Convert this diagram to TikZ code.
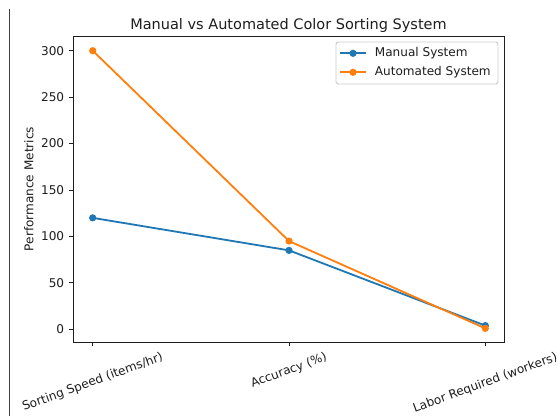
\documentclass[tikz,border=0pt]{standalone}
\usepackage{fontspec}
\setmainfont{DejaVu Sans}
\usetikzlibrary{positioning,calc}
\definecolor{mancol}{RGB}{31,119,180}
\definecolor{autcol}{RGB}{255,127,14}
\definecolor{legframe}{RGB}{204,204,204}
\definecolor{ink}{RGB}{30,30,30}
\tikzset{lab/.style={font=\fontsize{12.07}{14}\selectfont,inner sep=0pt,text=ink},ttl/.style={font=\fontsize{14.5}{17}\selectfont,inner sep=0pt,text=ink},spine/.style={line width=0.97pt,draw=ink},tickmark/.style={line width=0.97pt,draw=ink},series/.style={line width=1.81pt,line join=round,line cap=rect},dot/.style={circle,inner sep=0pt,minimum size=7.24pt},xlab/.style={lab,rotate=20}}

\begin{document}
\begin{tikzpicture}[x=1pt,y=1pt]
\useasboundingbox[fill=white] (0,0) rectangle (558,416);
% page rule on the left
\draw[line width=1pt,draw=black!75] (9,0) -- (9,407);
\begin{scope}[shift={(92.7,86.7)},x=196.3pt,y=0.9287pt]
% data
\coordinate (m0) at (0,120);\coordinate (m1) at (1,85);\coordinate (m2) at (2,4);
\coordinate (a0) at (0,300);\coordinate (a1) at (1,95);\coordinate (a2) at (2,1);
\draw[series,mancol] (m0)--(m1)--(m2);
\foreach \i in {0,1,2} \node[dot,fill=mancol] (dm\i) at (m\i) {};
\draw[series,autcol] (a0)--(a1)--(a2);
\foreach \i in {0,1,2} \node[dot,fill=autcol] (da\i) at (a\i) {};
% axes and ticks
\draw[spine] (-0.1,-13.95) rectangle (2.1,314.95);
\foreach \v in {0,50,...,300} \draw[tickmark] (-0.1,\v) -- ++(-4.22pt,0) node[lab,anchor=east,xshift=-4.22pt] (yt\v) {\v};
\foreach \i in {0,1,2} \draw[tickmark] (\i,-13.95) -- ++(0,-4.22pt);
\end{scope}
\node[xlab] (xt0) at (92.7,33.6) {Sorting Speed (items/hr)};
\node[xlab] (xt1) at (289,45.3) {Accuracy (\%)};
\node[xlab] (xt2) at (485.3,32.7) {Labor Required (workers)};
\node[lab,rotate=90] (ylab) at (29,227) {Performance Metrics};
\node[ttl,anchor=base] (title) at (288.5,386) {Manual vs Automated Color Sorting System};
% legend
\draw[draw=legframe,fill=white,fill opacity=0.8,line width=0.97pt,rounded corners=2.4pt] (336,332) rectangle (498,374);
\coordinate (lm0) at (341,362.7);\coordinate (lm1) at (365,362.7);
\coordinate (la0) at (341,343.7);\coordinate (la1) at (365,343.7);
\draw[series,mancol] (lm0)--(lm1);
\node[dot,fill=mancol] (lmd) at ($(lm0)!0.5!(lm1)$) {};
\node[lab,anchor=west] (lmt) at (374.7,362.7) {Manual System};
\draw[series,autcol] (la0)--(la1);
\node[dot,fill=autcol] (lad) at ($(la0)!0.5!(la1)$) {};
\node[lab,anchor=west] (lat) at (374.7,343.7) {Automated System};
\end{tikzpicture}
\end{document}
